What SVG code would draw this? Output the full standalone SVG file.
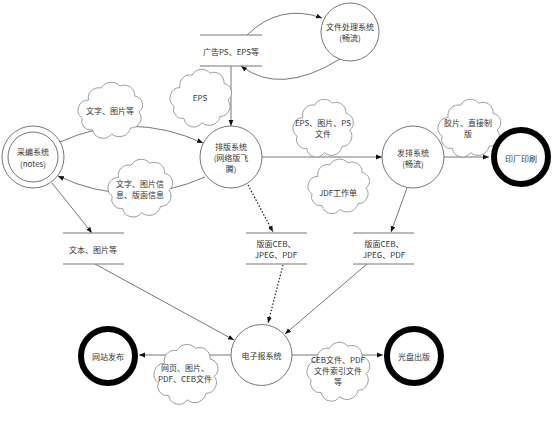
<svg xmlns="http://www.w3.org/2000/svg" width="552" height="447" viewBox="0 0 552 447">
<style>
.bg{fill:#fff}
.node{fill:#fff;stroke:#666;stroke-width:0.9}
.term{fill:#fff;stroke:#000;stroke-width:6}
.store{stroke:#777;stroke-width:1}
.con{fill:none;stroke:#666;stroke-width:0.9}
.dot{fill:none;stroke:#222;stroke-width:1.2;stroke-dasharray:1.5 1.8}
.cloud{fill:#fff;stroke:#888;stroke-width:0.8}
text{font-family:"Noto Sans CJK SC","Liberation Sans",sans-serif;font-size:8px;fill:#333;text-anchor:middle;dominant-baseline:central}
</style>
<defs>
<marker id="ar" viewBox="0 0 10 10" refX="10" refY="5" markerWidth="6" markerHeight="6" orient="auto" markerUnits="userSpaceOnUse">
<path d="M0,1 L10,5 L0,9 Z" fill="#111"/>
</marker>
<path id="cl" d="M10,20 A10,10 0 0 1 22,8 A11,11 0 0 1 40,6 A10,10 0 0 1 54,16 A9,9 0 0 1 58,32 A10,10 0 0 1 50,48 A11,11 0 0 1 32,54 A10,10 0 0 1 14,50 A9,9 0 0 1 4,38 A10,10 0 0 1 10,20 Z"/>
</defs>
<rect class="bg" x="0" y="0" width="552" height="447"/>

<g id="connectors">
<path class="con" d="M60,142 Q130,110 203,143" marker-end="url(#ar)"/>
<path class="con" d="M205,177 Q130,210 58,176" marker-end="url(#ar)"/>
<path class="con" d="M52,183 L92,233" marker-end="url(#ar)"/>
<path class="con" d="M95,264 L234,340" marker-end="url(#ar)"/>
<path class="con" d="M247,35 Q280,3 322,18" marker-end="url(#ar)"/>
<path class="con" d="M340,59 Q280,96 241,66" marker-end="url(#ar)"/>
<path class="con" d="M231,66 L231,126" marker-end="url(#ar)"/>
<path class="con" d="M262,157 L382,157" marker-end="url(#ar)"/>
<path class="con" d="M444,157 L489,157" marker-end="url(#ar)"/>
<path class="dot" d="M248,185 L273,232" marker-end="url(#ar)"/>
<path class="dot" d="M283,265 L268,323" marker-end="url(#ar)"/>
<path class="con" d="M407,188 L391,232" marker-end="url(#ar)"/>
<path class="con" d="M367,264 L285,334" marker-end="url(#ar)"/>
<path class="con" d="M231,355 L139,355" marker-end="url(#ar)"/>
<path class="con" d="M292,355 L383,355" marker-end="url(#ar)"/>
</g>

<g id="clouds">
<use href="#cl" class="cloud" transform="translate(78,80) scale(1.05,1.0)"/>
<use href="#cl" class="cloud" transform="translate(108,157) scale(1.05,1.03)"/>
<use href="#cl" class="cloud" transform="translate(170,67) scale(1.0,1.03)"/>
<use href="#cl" class="cloud" transform="translate(293,97) scale(0.98,1.03)"/>
<use href="#cl" class="cloud" transform="translate(308,157) scale(1.0,0.97)"/>
<use href="#cl" class="cloud" transform="translate(438,97) scale(1.02,1.03)"/>
<use href="#cl" class="cloud" transform="translate(154,342) scale(1.04,1.07)"/>
<use href="#cl" class="cloud" transform="translate(307,340) scale(1.02,1.05)"/>
<text x="110" y="110">文字、图片等</text>
<text x="140" y="183">文字、图片信</text>
<text x="140" y="194">息、版面信息</text>
<text x="200" y="97">EPS</text>
<text x="323" y="122">EPS、图片、PS</text>
<text x="323" y="133">文件</text>
<text x="338" y="192">JDF工作单</text>
<text x="468" y="122">胶片、直接制</text>
<text x="468" y="133">版</text>
<text x="185" y="367">网页、图片、</text>
<text x="185" y="378">PDF、CEB文件</text>
<text x="338" y="359">CEB文件、PDF</text>
<text x="338" y="370">文件索引文件</text>
<text x="338" y="381">等</text>
</g>

<g id="caibian">
<circle class="node" cx="33" cy="157" r="31"/>
<circle class="node" cx="33" cy="157" r="25"/>
<text x="33" y="151">采编系统</text>
<text x="33" y="163">(notes)</text>
</g>
<g id="paiban">
<circle class="node" cx="231" cy="157" r="31"/>
<text x="231" y="146">排版系统</text>
<text x="231" y="157">(网络版飞</text>
<text x="231" y="168">腾)</text>
</g>
<g id="wenjian">
<circle class="node" cx="350" cy="32" r="29"/>
<text x="350" y="26">文件处理系统</text>
<text x="350" y="37">(畅流)</text>
</g>
<g id="fapai">
<circle class="node" cx="413" cy="157" r="31"/>
<text x="413" y="152">发排系统</text>
<text x="413" y="163">(畅流)</text>
</g>
<g id="yinchang">
<circle class="term" cx="521" cy="157" r="27"/>
<text x="521" y="158">印厂印刷</text>
</g>
<g id="dianzibao">
<circle class="node" cx="261.5" cy="355" r="30.5"/>
<text x="261.5" y="355">电子报系统</text>
</g>
<g id="wangzhan">
<circle class="term" cx="108" cy="356" r="27"/>
<text x="108" y="356">网站发布</text>
</g>
<g id="guangpan">
<circle class="term" cx="414" cy="356" r="27"/>
<text x="414" y="356">光盘出版</text>
</g>

<g id="store-guanggao">
<line class="store" x1="200" y1="35" x2="262" y2="35"/>
<line class="store" x1="200" y1="66" x2="262" y2="66"/>
<text x="231" y="51">广告PS、EPS等</text>
</g>
<g id="store-wenben">
<line class="store" x1="63" y1="233" x2="124" y2="233"/>
<line class="store" x1="63" y1="264" x2="124" y2="264"/>
<text x="93" y="249">文本、图片等</text>
</g>
<g id="store-banmian1">
<line class="store" x1="246" y1="233" x2="307" y2="233"/>
<line class="store" x1="246" y1="264" x2="307" y2="264"/>
<text x="276" y="243">版面CEB、</text>
<text x="276" y="254">JPEG、PDF</text>
</g>
<g id="store-banmian2">
<line class="store" x1="353" y1="233" x2="414" y2="233"/>
<line class="store" x1="353" y1="264" x2="414" y2="264"/>
<text x="384" y="243">版面CEB、</text>
<text x="384" y="254">JPEG、PDF</text>
</g>
</svg>
